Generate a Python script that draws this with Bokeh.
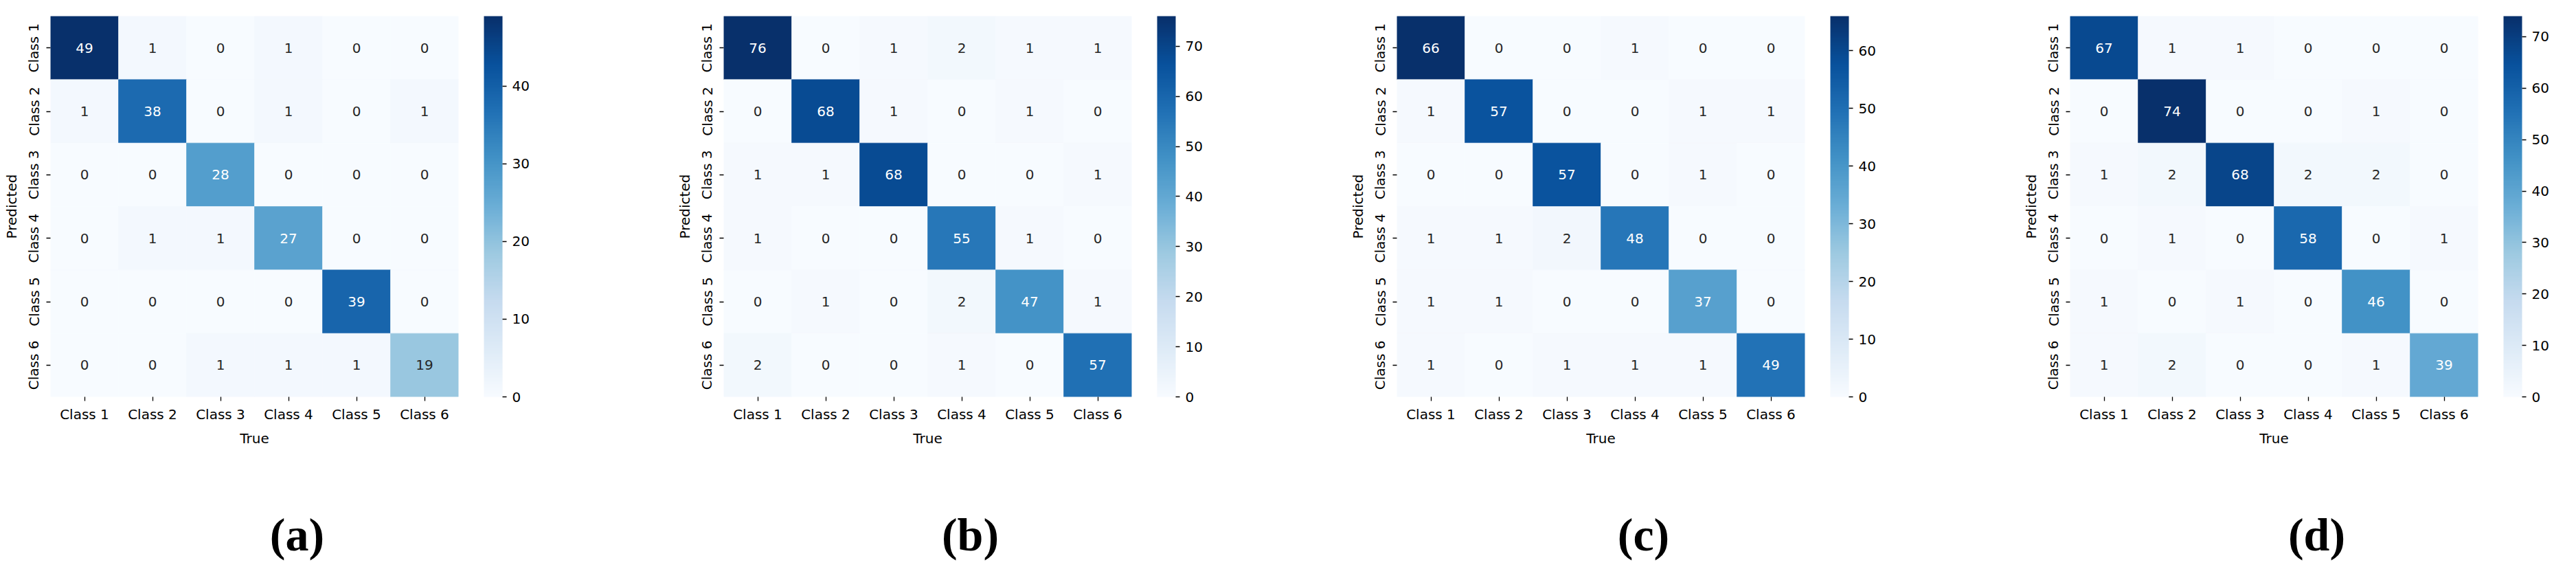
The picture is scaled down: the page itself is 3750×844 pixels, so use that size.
from bokeh.plotting import figure
from bokeh.models import (LinearColorMapper, ColorBar, FixedTicker, Title,
                          ColumnDataSource, FactorRange)
from bokeh.layouts import row
from bokeh.palettes import Blues256
from bokeh.transform import transform
from bokeh.core.properties import value
from bokeh.embed import file_html
from bokeh.resources import INLINE

classes = ["Class 1", "Class 2", "Class 3", "Class 4", "Class 5", "Class 6"]

# rows = Predicted, columns = True
cm_a = [[49, 1, 0, 1, 0, 0],
        [1, 38, 0, 1, 0, 1],
        [0, 0, 28, 0, 0, 0],
        [0, 1, 1, 27, 0, 0],
        [0, 0, 0, 0, 39, 0],
        [0, 0, 1, 1, 1, 19]]
cm_b = [[76, 0, 1, 2, 1, 1],
        [0, 68, 1, 0, 1, 0],
        [1, 1, 68, 0, 0, 1],
        [1, 0, 0, 55, 1, 0],
        [0, 1, 0, 2, 47, 1],
        [2, 0, 0, 1, 0, 57]]
cm_c = [[66, 0, 0, 1, 0, 0],
        [1, 57, 0, 0, 1, 1],
        [0, 0, 57, 0, 1, 0],
        [1, 1, 2, 48, 0, 0],
        [1, 1, 0, 0, 37, 0],
        [1, 0, 1, 1, 1, 49]]
cm_d = [[67, 1, 1, 0, 0, 0],
        [0, 74, 0, 0, 1, 0],
        [1, 2, 68, 2, 2, 0],
        [0, 1, 0, 58, 0, 1],
        [1, 0, 1, 0, 46, 0],
        [1, 2, 0, 0, 1, 39]]
panel_labels = ["(a)", "(b)", "(c)", "(d)"]
matrices = [cm_a, cm_b, cm_c, cm_d]
cbar_ticks = [0, 10, 20, 30, 40, 50, 60, 70]


def rel_lum(h):
    rgb = [int(h[i:i + 2], 16) / 255 for i in (1, 3, 5)]
    rgb = [c / 12.92 if c <= 0.03928 else ((c + 0.055) / 1.055) ** 2.4 for c in rgb]
    return 0.2126 * rgb[0] + 0.7152 * rgb[1] + 0.0722 * rgb[2]


pal = list(Blues256)
if rel_lum(pal[0]) < rel_lum(pal[-1]):
    pal = pal[::-1]  # light -> dark

FONT = "DejaVu Sans"
FW, FH = 594, 554
LABEL_PX = 68
# approximate advance widths (em) of Liberation Serif Bold glyphs
_EM = {"(": 0.333, ")": 0.333, "a": 0.5, "b": 0.556, "c": 0.444, "d": 0.556}


def make(cm, lab, right_border):
    hi = max(max(r) for r in cm)
    mapper = LinearColorMapper(palette=pal, low=0, high=hi)
    xs, ys, vs, ts, cs = [], [], [], [], []
    n = len(pal)
    for i, rv in enumerate(cm):
        for j, v in enumerate(rv):
            xs.append(classes[j])
            ys.append(classes[i])
            vs.append(v)
            ts.append(str(v))
            idx = min(int(v / hi * n), n - 1)
            cs.append("#262626" if rel_lum(pal[idx]) > 0.408 else "#ffffff")
    src = ColumnDataSource(dict(x=xs, y=ys, v=vs, t=ts, c=cs))

    p = figure(x_range=FactorRange(*classes), y_range=FactorRange(*classes[::-1]),
               frame_width=FW, frame_height=FH,
               min_border_left=73, min_border_right=right_border,
               min_border_top=23, min_border_bottom=251,
               output_backend="svg", toolbar_location=None,
               x_axis_label="True", y_axis_label="Predicted")
    p.rect(x="x", y="y", width=1, height=1, source=src,
           fill_color=transform("v", mapper), line_color=transform("v", mapper),
           line_width=0.6)
    p.text(x="x", y="y", text="t", text_color="c", source=src,
           text_align="center", text_baseline="middle",
           text_font=value(FONT), text_font_size="20px")

    for ax in p.axis:
        ax.axis_line_color = None
        ax.major_tick_in = 0
        ax.major_tick_out = 6
        ax.major_tick_line_color = "black"
        ax.major_tick_line_width = 1.3
        ax.minor_tick_line_color = None
        ax.major_label_text_font = FONT
        ax.major_label_text_font_size = "20px"
        ax.major_label_text_color = "black"
        ax.axis_label_text_font = FONT
        ax.axis_label_text_font_style = "normal"
        ax.axis_label_text_font_size = "20px"
        ax.axis_label_text_color = "black"
    p.yaxis.major_label_orientation = "vertical"
    p.xaxis.major_label_standoff = 7
    p.xaxis.axis_label_standoff = 8
    p.yaxis.major_label_standoff = 6
    p.yaxis.axis_label_standoff = 6
    p.grid.visible = False
    p.outline_line_color = None
    p.background_fill_color = "white"
    p.border_fill_color = "white"

    cb = ColorBar(color_mapper=mapper, width=27, height=FH,
                  ticker=FixedTicker(ticks=cbar_ticks),
                  major_tick_in=0, major_tick_out=6,
                  major_tick_line_color="black", major_tick_line_width=1.3,
                  minor_tick_line_color=None, bar_line_color=None,
                  border_line_color=None, background_fill_color=None,
                  major_label_text_font=FONT, major_label_text_font_size="20px",
                  major_label_text_color="black", label_standoff=8,
                  padding=0, margin=0, location=(FW + 37, 0))
    p.add_layout(cb, "center")

    # blank spacer between the x axis and the panel caption
    p.add_layout(Title(text=" ", text_font_size="10px", standoff=70), "below")
    w = sum(_EM.get(ch, 0.5) for ch in lab) * LABEL_PX
    p.add_layout(Title(text=lab, align="left", offset=FW / 2 + 62 - w / 2,
                       standoff=4,
                       text_font="Liberation Serif", text_font_style="bold",
                       text_font_size=f"{LABEL_PX}px", text_color="black"), "below")
    return p


figs = []
for k, (cm, lab) in enumerate(zip(matrices, panel_labels)):
    rb = 313 if k < 3 else 127
    figs.append(make(cm, lab, rb))

layout = row(*figs, spacing=0)
open("out.html", "w").write(file_html(layout, INLINE))
